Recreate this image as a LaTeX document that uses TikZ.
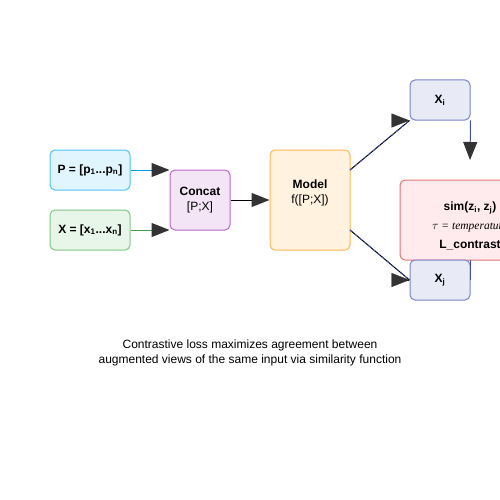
\documentclass[tikz,border=0pt]{standalone}
\usepackage{fontspec}
\setmainfont{Liberation Sans}
\newfontfamily\timesfont{Liberation Serif}
\usetikzlibrary{arrows.meta,positioning}
\definecolor{headgray}{HTML}{333333}
\definecolor{pfill}{HTML}{E1F5FE}\definecolor{pdraw}{HTML}{4FC3F7}\definecolor{pline}{HTML}{039BE5}
\definecolor{xfill}{HTML}{E8F5E9}\definecolor{xdraw}{HTML}{81C784}\definecolor{xline}{HTML}{43A047}
\definecolor{cfill}{HTML}{F3E5F5}\definecolor{cdraw}{HTML}{BA68C8}
\definecolor{mfill}{HTML}{FFF3E0}\definecolor{mdraw}{HTML}{FFB74D}
\definecolor{vfill}{HTML}{E8EAF6}\definecolor{vdraw}{HTML}{7986CB}\definecolor{vline}{HTML}{3F51B5}
\definecolor{sfill}{HTML}{FFEBEE}\definecolor{sdraw}{HTML}{E57373}
\tikzset{
  box/.style={rounded corners=5pt,line width=1pt,inner sep=0pt,align=center,
              font=\fontsize{12}{15}\selectfont},
  inbox/.style={box,fill=pfill,draw=pdraw,minimum width=80pt,minimum height=40pt},
  seqbox/.style={box,fill=xfill,draw=xdraw,minimum width=80pt,minimum height=40pt},
  catbox/.style={box,fill=cfill,draw=cdraw,minimum width=60pt,minimum height=60pt},
  modelbox/.style={box,fill=mfill,draw=mdraw,minimum width=80pt,minimum height=100pt},
  viewbox/.style={box,fill=vfill,draw=vdraw,minimum width=60pt,minimum height=40pt},
  simbox/.style={box,fill=sfill,draw=sdraw,minimum width=140pt,minimum height=80pt},
  head/.style={-{Triangle[length=18pt,width=14pt,color=headgray]}},
  plain/.style={font=\fontsize{12}{15}\selectfont,align=center,inner sep=0pt}
}
\begin{document}
\begin{tikzpicture}[x=1pt,y=-1pt]
  \useasboundingbox (0,0) rectangle (500,500);
  \clip (0,0) rectangle (500,500);
  % inputs and concat
  \node[inbox] (prompt) at (90,170) {\textbf{P = [p\textsubscript{1}...p\textsubscript{n}]}};
  \node[seqbox] (input) at (90,230) {\textbf{X = [x\textsubscript{1}...x\textsubscript{n}]}};
  \node[catbox] (concat) at (200,200) {\textbf{Concat}\\{}[P;X]};
  \node[modelbox] (model) at (310,200) {};
  \node[plain] (modeltext) at (310,193) {\textbf{Model}\\f([P;X])};
  % similarity box and views
  \node[simbox] (sim) at (470,220) {};
  \node[plain] (simtext) at (470,226) {\textbf{sim(z\textsubscript{i}, z\textsubscript{j})}\\[4pt]
    {\timesfont\itshape\fontsize{11.5}{14}\selectfont $\tau$ = temperature}\\[4pt]\textbf{L\_contrast}};
  \node[viewbox] (viewa) at (440,100) {\textbf{X\textsubscript{i}}};
  \node[viewbox] (viewb) at (440,280) {\textbf{X\textsubscript{j}}};
  \coordinate (simtop) at (470,160);
  \coordinate (outa) at (350,170);
  \coordinate (outb) at (350,230);
  % connectors
  \draw[pline,line width=1pt,head] (prompt) -- (concat.west |- prompt); % prompt
  \draw[xline,line width=1pt,head] (input) -- (concat.west |- input); % input
  \draw[black,line width=1pt,head] (concat) -- (model); % to model
  \draw[black,line width=1pt] (outa) -- (viewa.south west); % view one
  \draw[vline,dashed,line width=1pt] (outa) -- (viewa.south west);
  \draw[head] ([xshift=-1pt]viewa.south west) -- (viewa.south west);
  \draw[black,line width=1pt] (outb) -- (viewb.west); % view two
  \draw[vline,dashed,line width=1pt] (outb) -- (viewb.west);
  \draw[head] ([xshift=-1pt]viewb.west) -- (viewb.west);
  \draw[vline,line width=1pt,head] (viewa.south east) -- (simtop); % to sim
  \draw[vline,line width=1pt] (viewb.east) -- (viewb.north east);
  % caption
  \node[plain] (caption) at (250,353) {Contrastive loss maximizes agreement between\\augmented views of the same input via similarity function};
\end{tikzpicture}
\end{document}
